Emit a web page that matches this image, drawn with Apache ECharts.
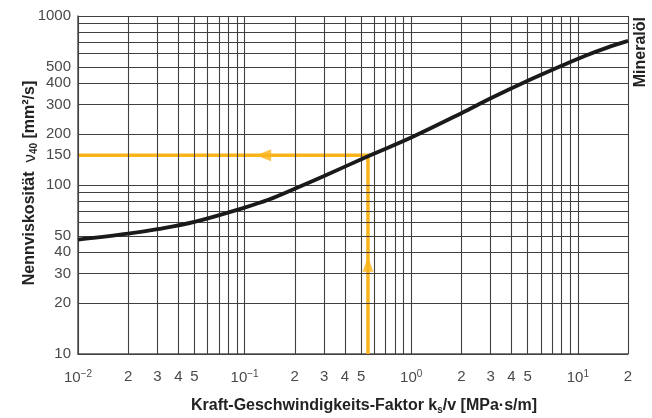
<!DOCTYPE html>
<html>
<head>
<meta charset="utf-8">
<script src="https://cdn.jsdelivr.net/npm/echarts@6/dist/echarts.min.js"></script>
<style>
  html, body { margin: 0; padding: 0; background: #fff; }
  #chart { width: 652px; height: 418px; }
</style>
</head>
<body>
<div id="chart"></div>
<script>
// Viscosity curve: force-speed factor ks/v [MPa·s/m] -> nominal viscosity ν40 [mm²/s]
const curveX = [0.01, 0.02, 0.03, 0.05, 0.1, 0.14, 0.2, 0.3, 0.55, 1, 2, 3, 5, 8, 11, 15, 20];
const curveY = [47.5, 51.5, 54.8, 60.5, 73.5, 82, 95, 113, 148, 191, 266, 326, 414, 508, 580, 650, 712];

// Example reading: from ks/v = 0.55 up to the curve, then across to ν40 = 150
const readX = 0.55;
const readY = 150;
const readStartY = 10;
const readEndX = 0.01;
const arrowUp = [0.55, 34];
const arrowLeft = [0.13, 150];

// Grid lines (decade subdivisions)
const xGrid = [0.01, 0.02, 0.03, 0.04, 0.05, 0.06, 0.07, 0.08, 0.09,
               0.1, 0.2, 0.3, 0.4, 0.5, 0.6, 0.7, 0.8, 0.9,
               1, 2, 3, 4, 5, 6, 7, 8, 9, 10, 20];
const yGrid = [10, 20, 30, 40, 50, 60, 70, 80, 90,
               100, 200, 300, 400, 500, 600, 700, 800, 900, 1000];

// Tick labels
const xTicks = [0.01, 0.02, 0.03, 0.04, 0.05, 0.1, 0.2, 0.3, 0.4, 0.5,
                1, 2, 3, 4, 5, 10, 20];
const xTickText = ['10{sup|−2}', '2', '3', '4', '5', '10{sup|−1}', '2', '3', '4', '5',
                   '10{sup|0}', '2', '3', '4', '5', '10{sup|1}', '2'];
const yTicks = [10, 20, 30, 40, 50, 100, 150, 200, 300, 400, 500, 1000];

const ORANGE = '#fbb41a';
const GRID = '#404040';
const LABEL = '#4a4a4a';
const FONT = '"Liberation Sans", Arial, sans-serif';

const chart = echarts.init(document.getElementById('chart'), null, { renderer: 'canvas' });

const gridLines = [].concat(
  xGrid.map(v => ({ xAxis: v })),
  yGrid.map(v => ({ yAxis: v }))
);

function sameValue(a, b) {
  return Math.abs(Math.log10(a) - Math.log10(b)) < 1e-6;
}

chart.setOption({
  animation: false,
  backgroundColor: '#fff',
  grid: { left: 78, right: 24, top: 16, bottom: 64 },
  xAxis: {
    type: 'log',
    logBase: 10,
    min: 0.01,
    max: 20,
    axisLine: { show: true, lineStyle: { color: '#555', width: 1.5 } },
    axisTick: { show: false },
    splitLine: { show: false },
    axisLabel: {
      customValues: xTicks,
      margin: 15,
      color: LABEL,
      fontSize: 15,
      fontFamily: FONT,
      formatter: function (v) {
        const i = xTicks.findIndex(t => sameValue(t, v));
        return i >= 0 ? xTickText[i] : '';
      },
      rich: {
        sup: { fontSize: 10, verticalAlign: 'top', padding: [0, 0, 8, 0], color: LABEL, fontFamily: FONT }
      }
    }
  },
  yAxis: {
    type: 'log',
    logBase: 10,
    min: 10,
    max: 1000,
    axisLine: { show: true, lineStyle: { color: '#555', width: 1.5 } },
    axisTick: { show: false },
    splitLine: { show: false },
    axisLabel: {
      customValues: yTicks,
      margin: 7,
      color: LABEL,
      fontSize: 15,
      fontFamily: FONT,
      formatter: function (v) {
        const t = yTicks.find(t => sameValue(t, v));
        return t !== undefined ? String(t) : '';
      }
    }
  },
  series: [
    {
      name: 'grid',
      type: 'line',
      data: [],
      z: 1,
      markLine: {
        silent: true,
        symbol: 'none',
        animation: false,
        label: { show: false },
        lineStyle: { color: GRID, width: 1.1, type: 'solid' },
        data: gridLines
      }
    },
    {
      name: 'reading',
      type: 'line',
      z: 3,
      symbol: 'none',
      lineStyle: { color: ORANGE, width: 3.5, join: 'miter' },
      data: [[readX, readStartY], [readX, readY], [readEndX, readY]]
    },
    {
      name: 'arrows',
      type: 'scatter',
      z: 4,
      itemStyle: { color: ORANGE },
      data: [
        { value: arrowUp, symbol: 'triangle', symbolSize: [11, 15], symbolRotate: 0 },
        { value: arrowLeft, symbol: 'triangle', symbolSize: [12, 15], symbolRotate: 90 }
      ]
    },
    {
      name: 'Mineralöl',
      type: 'line',
      z: 5,
      smooth: 0.35,
      symbol: 'none',
      lineStyle: { color: '#1a1a1a', width: 3.8 },
      data: curveX.map((x, i) => [x, curveY[i]])
    }
  ],
  graphic: [
    {
      type: 'text',
      x: 364,
      y: 406,
      style: {
        text: 'Kraft-Geschwindigkeits-Faktor k{sub|s}/v [MPa·s/m]',
        font: 'bold 16px ' + FONT,
        fill: '#222',
        align: 'center',
        verticalAlign: 'middle',
        rich: {
          sub: { font: 'bold 10px ' + FONT, fill: '#222', padding: [9, 0, 0, 0] }
        }
      }
    },
    {
      type: 'text',
      x: 30,
      y: 183,
      rotation: Math.PI / 2,
      style: {
        text: 'Nennviskosität  {nu|ν}{sub|40} [mm²/s]',
        font: 'bold 16px ' + FONT,
        fill: '#222',
        align: 'center',
        verticalAlign: 'middle',
        rich: {
          nu: { font: '17px ' + FONT, fill: '#222' },
          sub: { font: 'bold 10px ' + FONT, fill: '#222', padding: [9, 0, 0, 0] }
        }
      }
    },
    {
      type: 'text',
      x: 641,
      y: 17,
      rotation: Math.PI / 2,
      style: {
        text: 'Mineralöl',
        font: 'bold 16px ' + FONT,
        fill: '#222',
        align: 'right',
        verticalAlign: 'middle'
      }
    }
  ]
});
</script>
</body>
</html>
